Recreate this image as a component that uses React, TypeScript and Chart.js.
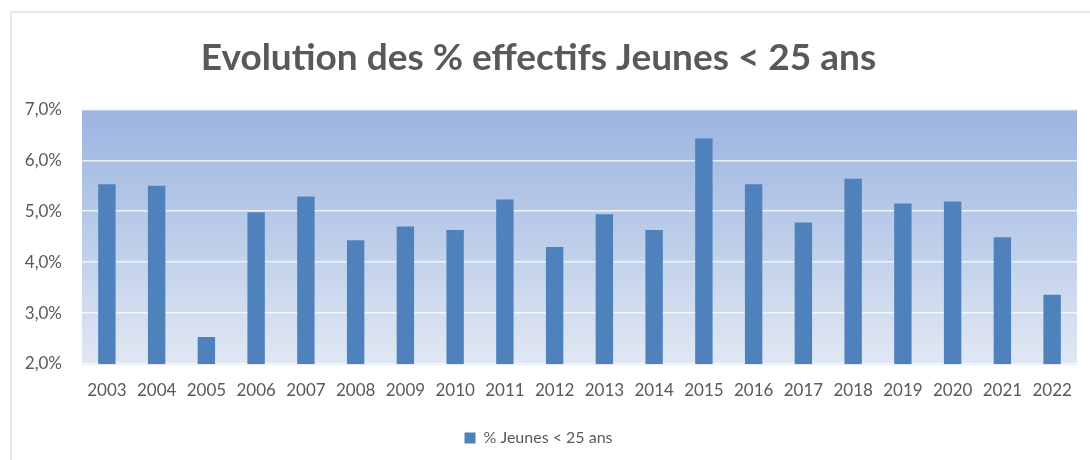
import React, { useEffect, useRef } from "react";
import { Chart, registerables } from "chart.js";
Chart.register(...registerables);

const years = ["2003","2004","2005","2006","2007","2008","2009","2010","2011","2012","2013","2014","2015","2016","2017","2018","2019","2020","2021","2022"];
const youngShare = [5.53,5.50,2.53,4.98,5.29,4.43,4.70,4.63,5.23,4.30,4.94,4.63,6.43,5.53,4.78,5.64,5.15,5.19,4.49,3.36];
const seriesLabel = "% Jeunes < 25 ans";
const titleText = "Evolution des % effectifs Jeunes < 25 ans";

const bgPlugin = {
  id: "bgGradient",
  beforeDraw(chart: any) {
    const { ctx, chartArea } = chart;
    if (!chartArea) return;
    const g = ctx.createLinearGradient(0, chartArea.top, 0, chartArea.bottom);
    g.addColorStop(0, "#9bb4e1");
    g.addColorStop(0.5, "#bccde9");
    g.addColorStop(1, "#e1e8f4");
    ctx.save();
    ctx.fillStyle = g;
    ctx.fillRect(chartArea.left, chartArea.top, chartArea.right - chartArea.left, chartArea.bottom - chartArea.top);
    ctx.restore();
  },
};

export default function App() {
  const ref = useRef<HTMLCanvasElement>(null);
  useEffect(() => {
    const chart = new Chart(ref.current!, {
      type: "bar",
      data: {
        labels: years,
        datasets: [{
          label: seriesLabel,
          data: youngShare,
          backgroundColor: "#4f81bd",
          barPercentage: 0.35,
          categoryPercentage: 1,
        }],
      },
      plugins: [bgPlugin],
      options: {
        animation: false,
        responsive: false,
        layout: { padding: { left: 0, right: 13, top: 0, bottom: 4 } },
        plugins: {
          title: {
            display: true,
            text: titleText,
            color: "#595959",
            font: { family: "Lato", size: 37, weight: "bold", lineHeight: 1.2 },
            padding: { top: 36, bottom: 29 },
          },
          legend: {
            position: "bottom",
            labels: {
              color: "#595959",
              font: { family: "Lato", size: 16 },
              boxWidth: 11,
              boxHeight: 11,
              padding: 11,
            },
          },
          tooltip: { enabled: false },
        },
        scales: {
          x: {
            grid: { display: false },
            border: { display: true, color: "#e6ebf3" },
            ticks: { color: "#595959", font: { family: "Lato", size: 17 }, maxRotation: 0, padding: 8 },
            afterFit: (s: any) => { s.height = 55; },
          },
          y: {
            min: 2,
            max: 7,
            grid: { color: "rgba(255,255,255,0.75)", lineWidth: 1.5, drawTicks: false },
            border: { display: false },
            ticks: {
              stepSize: 1,
              color: "#595959",
              font: { family: "Lato", size: 17 },
              padding: 20,
              callback: (v: any) => Number(v).toFixed(1).replace(".", ",") + "%",
            },
            afterFit: (s: any) => { s.width = 82; },
          },
        },
      },
    });
    return () => chart.destroy();
  }, []);
  return (
    <div style={{ position: "absolute", left: 0, top: 0, width: 1090, height: 460, background: "#fff" }}>
      <div style={{ position: "absolute", left: 10, top: 11, width: 1090, height: 460, borderLeft: "2px solid #e6e6e6", borderTop: "2px solid #e6e6e6" }} />
      <canvas ref={ref} width={1090} height={460} style={{ position: "absolute", left: 0, top: 0 }} />
    </div>
  );
}
